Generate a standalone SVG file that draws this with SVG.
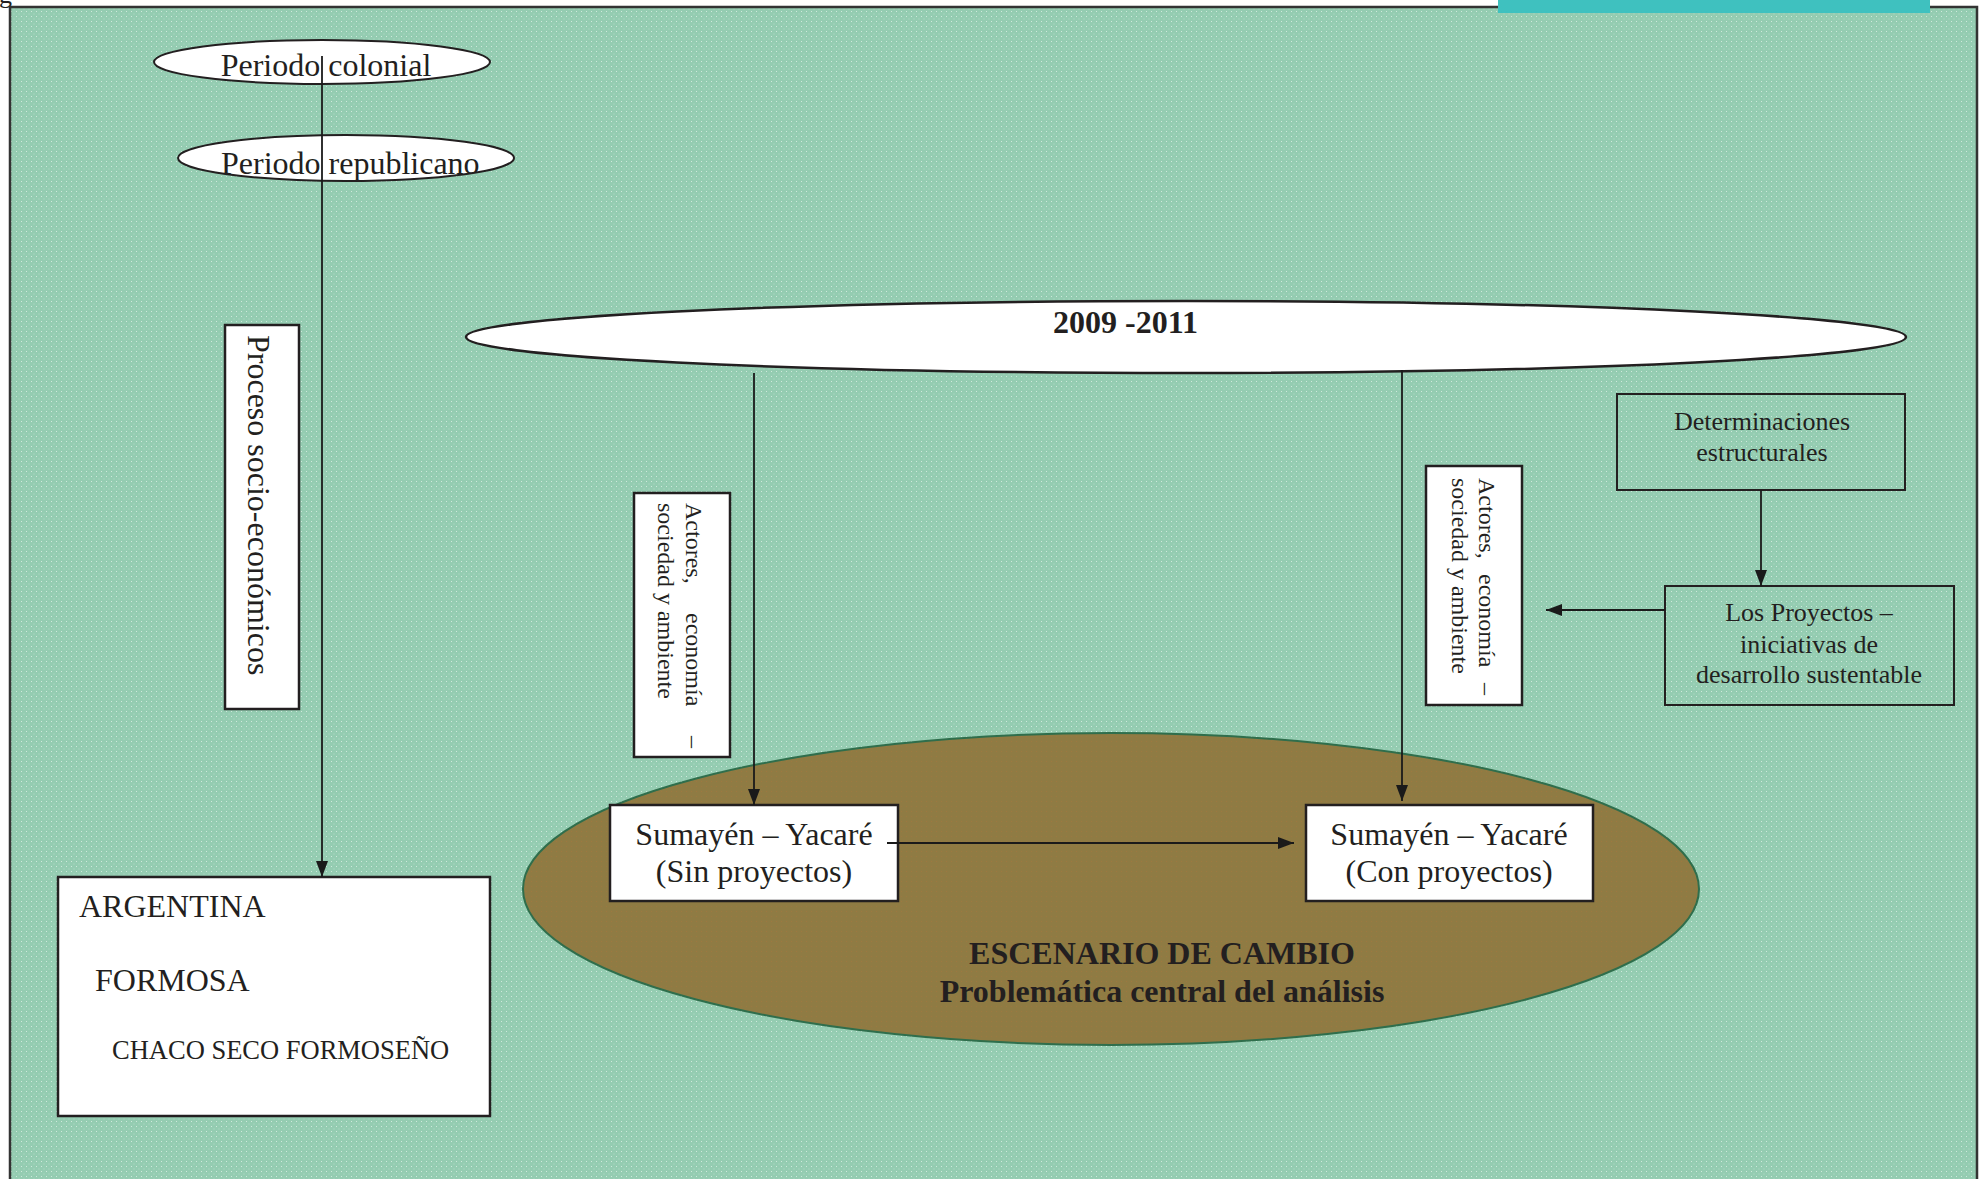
<svg xmlns="http://www.w3.org/2000/svg" width="1984" height="1179" viewBox="0 0 1984 1179">
<style>
  .t{font-family:"Liberation Serif","Times New Roman",serif;fill:#231f20;}
  .b{font-weight:bold;}
  .box{fill:#ffffff;stroke:#231f20;stroke-width:2.5;}
  .obox{fill:none;stroke:#231f20;stroke-width:2;}
  .ell{fill:#ffffff;stroke:#231f20;stroke-width:2;}
  .con{fill:none;stroke:#1a1a1a;stroke-width:1.8;}
</style>
<defs>
  <pattern id="dots" width="5" height="5" patternUnits="userSpaceOnUse">
    <rect width="5" height="5" fill="#94ccb1"/>
    <rect x="1" y="1" width="1" height="1" fill="#ffffff" opacity="0.55"/>
    <rect x="3.5" y="3.5" width="1" height="1" fill="#ffffff" opacity="0.3"/>
  </pattern>
  <pattern id="bdots" width="5" height="5" patternUnits="userSpaceOnUse">
    <rect width="5" height="5" fill="#8f7b43"/>
    <rect x="1" y="1" width="1" height="1" fill="#c0703a" opacity="0.35"/>
  </pattern>
  <marker id="ah" viewBox="0 0 16 12" refX="16" refY="6" markerWidth="16" markerHeight="12" markerUnits="userSpaceOnUse" orient="auto">
    <path d="M0,0 L16,6 L0,12 z" fill="#1a1a1a"/>
  </marker>
  <clipPath id="clipRep"><ellipse cx="346" cy="158" rx="168" ry="23"/></clipPath>
</defs>

<rect x="0" y="0" width="1984" height="1179" fill="#ffffff"/>
<text class="t" x="-1" y="3" font-size="26">g</text>
<rect id="frame" x="10" y="7" width="1967" height="1200" fill="url(#dots)" stroke="#333333" stroke-width="2.5"/>
<rect id="tab" x="1498" y="0" width="432" height="13" fill="#3fc1bf"/>

<g id="escenario">
  <ellipse cx="1111" cy="889" rx="588" ry="156" fill="url(#bdots)" stroke="#2f6e4c" stroke-width="2"/>
  <text class="t b" x="1162" y="964" font-size="32" text-anchor="middle">ESCENARIO DE CAMBIO</text>
  <text class="t b" x="1162" y="1002" font-size="32" text-anchor="middle">Problemática central del análisis</text>
</g>

<g id="periodo-colonial">
  <ellipse class="ell" cx="322" cy="62" rx="168" ry="22"/>
  <text class="t" x="326" y="76" font-size="32" text-anchor="middle">Periodo colonial</text>
</g>

<g id="periodo-republicano">
  <ellipse class="ell" cx="346" cy="158" rx="168" ry="23"/>
  <text class="t" x="221" y="174" font-size="32" clip-path="url(#clipRep)">Periodo republicano</text>
</g>

<g id="proceso">
  <rect class="box" x="225" y="325" width="74" height="384"/>
  <text class="t" transform="rotate(90)" x="335" y="-248" font-size="32">Proceso socio-económicos</text>
</g>

<g id="periodo-2009">
  <ellipse cx="1186" cy="337" rx="720" ry="36" fill="#ffffff" stroke="#231f20" stroke-width="2.5"/>
  <text class="t b" x="1053" y="333" font-size="32">2009 -2011</text>
</g>

<g id="actores-izq">
  <rect class="box" x="634" y="493" width="96" height="264"/>
  <g transform="rotate(90)">
    <text class="t" font-size="24" y="-686"><tspan x="503">Actores,</tspan><tspan x="613">economía</tspan><tspan x="736">–</tspan></text>
    <text class="t" font-size="24" x="503" y="-658">sociedad y ambiente</text>
  </g>
</g>

<g id="actores-der">
  <rect class="box" x="1426" y="466" width="96" height="239"/>
  <g transform="rotate(90)">
    <text class="t" font-size="24" y="-1479"><tspan x="478">Actores,</tspan><tspan x="574">economía</tspan><tspan x="683">–</tspan></text>
    <text class="t" font-size="24" x="478" y="-1452">sociedad y ambiente</text>
  </g>
</g>

<g id="determinaciones">
  <rect class="obox" x="1617" y="394" width="288" height="96"/>
  <text class="t" x="1762" y="430" font-size="26" text-anchor="middle">Determinaciones</text>
  <text class="t" x="1762" y="461" font-size="26" text-anchor="middle">estructurales</text>
</g>

<g id="proyectos">
  <rect class="obox" x="1665" y="586" width="289" height="119"/>
  <text class="t" x="1809" y="621" font-size="26" text-anchor="middle">Los Proyectos –</text>
  <text class="t" x="1809" y="653" font-size="26" text-anchor="middle">iniciativas de</text>
  <text class="t" x="1809" y="683" font-size="26" text-anchor="middle">desarrollo sustentable</text>
</g>

<g id="sin-proyectos">
  <rect class="box" x="610" y="805" width="288" height="96"/>
  <text class="t" x="754" y="845" font-size="32" text-anchor="middle">Sumayén – Yacaré</text>
  <text class="t" x="754" y="882" font-size="32" text-anchor="middle">(Sin proyectos)</text>
</g>

<g id="con-proyectos">
  <rect class="box" x="1306" y="805" width="287" height="96"/>
  <text class="t" x="1449" y="845" font-size="32" text-anchor="middle">Sumayén – Yacaré</text>
  <text class="t" x="1449" y="882" font-size="32" text-anchor="middle">(Con proyectos)</text>
</g>

<g id="argentina">
  <rect class="box" x="58" y="877" width="432" height="239"/>
  <text class="t" x="79" y="917" font-size="32">ARGENTINA</text>
  <text class="t" x="95" y="991" font-size="32">FORMOSA</text>
  <text class="t" x="112" y="1059" font-size="26.5">CHACO SECO FORMOSEÑO</text>
</g>

<g id="connectors">
  <line class="con" x1="322" y1="56" x2="322" y2="877" marker-end="url(#ah)"/>
  <line class="con" x1="754" y1="373" x2="754" y2="805" marker-end="url(#ah)"/>
  <line class="con" x1="1402" y1="370" x2="1402" y2="801" marker-end="url(#ah)"/>
  <line class="con" x1="887" y1="843" x2="1294" y2="843" marker-end="url(#ah)"/>
  <line class="con" x1="1761" y1="490" x2="1761" y2="586" marker-end="url(#ah)"/>
  <line class="con" x1="1665" y1="610" x2="1546" y2="610" marker-end="url(#ah)"/>
</g>
</svg>
